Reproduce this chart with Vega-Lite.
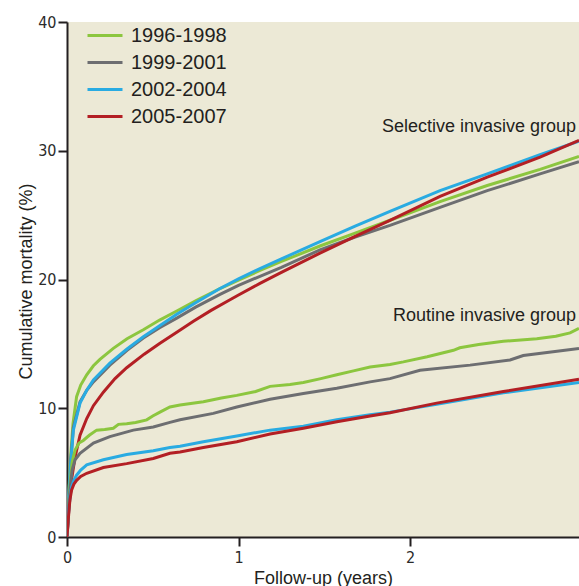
{
  "$schema": "https://vega.github.io/schema/vega-lite/v6.json",
  "width": 512,
  "height": 515,
  "autosize": {"type": "none"},
  "padding": {"left": 67, "top": 22, "right": 0, "bottom": 49},
  "background": "white",
  "config": {
    "view": {"fill": "#ece9d6", "stroke": null},
    "font": "Liberation Sans",
    "axis": {
      "grid": false,
      "domainColor": "#231f20",
      "domainWidth": 2,
      "tickColor": "#231f20",
      "tickWidth": 2,
      "tickSize": 9,
      "labelColor": "#2b2b2b",
      "labelFont": "Liberation Sans Narrow, DejaVu Sans Condensed, sans-serif",
      "labelFontSize": 16,
      "titleColor": "#231f20",
      "titleFont": "Liberation Sans",
      "titleFontSize": 18,
      "titleFontWeight": "normal"
    },
    "legend": {
      "orient": "none",
      "legendX": 26.5,
      "legendY": 2,
      "padding": 0,
      "symbolType": "M-1.75,0H1.75",
      "symbolSize": 400,
      "symbolStrokeWidth": 3,
      "labelFont": "Liberation Sans",
      "labelFontSize": 20,
      "labelColor": "#231f20",
      "labelOffset": 14.5,
      "rowPadding": 5,
      "title": null
    }
  },
  "layer": [
    {
      "data": {"values": [
        {"p":"1996-1998","g":"S","x":0,"y":0},
        {"p":"1996-1998","g":"S","x":0.01,"y":3.2},
        {"p":"1996-1998","g":"S","x":0.02,"y":6.0},
        {"p":"1996-1998","g":"S","x":0.035,"y":8.8},
        {"p":"1996-1998","g":"S","x":0.056,"y":10.9},
        {"p":"1996-1998","g":"S","x":0.08,"y":11.8},
        {"p":"1996-1998","g":"S","x":0.115,"y":12.6},
        {"p":"1996-1998","g":"S","x":0.154,"y":13.3},
        {"p":"1996-1998","g":"S","x":0.192,"y":13.8},
        {"p":"1996-1998","g":"S","x":0.27,"y":14.65},
        {"p":"1996-1998","g":"S","x":0.35,"y":15.4},
        {"p":"1996-1998","g":"S","x":0.445,"y":16.1},
        {"p":"1996-1998","g":"S","x":0.54,"y":16.85},
        {"p":"1996-1998","g":"S","x":0.64,"y":17.55},
        {"p":"1996-1998","g":"S","x":0.75,"y":18.35},
        {"p":"1996-1998","g":"S","x":0.892,"y":19.3},
        {"p":"1996-1998","g":"S","x":1.0,"y":19.95},
        {"p":"1996-1998","g":"S","x":1.125,"y":20.7},
        {"p":"1996-1998","g":"S","x":1.25,"y":21.4},
        {"p":"1996-1998","g":"S","x":1.475,"y":22.6},
        {"p":"1996-1998","g":"S","x":1.68,"y":23.6},
        {"p":"1996-1998","g":"S","x":1.883,"y":24.6},
        {"p":"1996-1998","g":"S","x":2.175,"y":26.05},
        {"p":"1996-1998","g":"S","x":2.45,"y":27.3},
        {"p":"1996-1998","g":"S","x":2.758,"y":28.55},
        {"p":"1996-1998","g":"S","x":2.985,"y":29.55},

        {"p":"1999-2001","g":"S","x":0,"y":0},
        {"p":"1999-2001","g":"S","x":0.01,"y":3.0},
        {"p":"1999-2001","g":"S","x":0.02,"y":5.5},
        {"p":"1999-2001","g":"S","x":0.037,"y":8.5},
        {"p":"1999-2001","g":"S","x":0.076,"y":10.5},
        {"p":"1999-2001","g":"S","x":0.115,"y":11.4},
        {"p":"1999-2001","g":"S","x":0.154,"y":12.05},
        {"p":"1999-2001","g":"S","x":0.25,"y":13.35},
        {"p":"1999-2001","g":"S","x":0.35,"y":14.5},
        {"p":"1999-2001","g":"S","x":0.445,"y":15.45},
        {"p":"1999-2001","g":"S","x":0.54,"y":16.25},
        {"p":"1999-2001","g":"S","x":0.64,"y":17.0},
        {"p":"1999-2001","g":"S","x":0.75,"y":17.85},
        {"p":"1999-2001","g":"S","x":0.892,"y":18.85},
        {"p":"1999-2001","g":"S","x":1.0,"y":19.55},
        {"p":"1999-2001","g":"S","x":1.125,"y":20.25},
        {"p":"1999-2001","g":"S","x":1.25,"y":20.95},
        {"p":"1999-2001","g":"S","x":1.475,"y":22.3},
        {"p":"1999-2001","g":"S","x":1.68,"y":23.3},
        {"p":"1999-2001","g":"S","x":1.883,"y":24.2},
        {"p":"1999-2001","g":"S","x":2.175,"y":25.6},
        {"p":"1999-2001","g":"S","x":2.45,"y":26.9},
        {"p":"1999-2001","g":"S","x":2.758,"y":28.2},
        {"p":"1999-2001","g":"S","x":2.985,"y":29.15},

        {"p":"2002-2004","g":"S","x":0,"y":0},
        {"p":"2002-2004","g":"S","x":0.01,"y":3.0},
        {"p":"2002-2004","g":"S","x":0.02,"y":5.5},
        {"p":"2002-2004","g":"S","x":0.037,"y":8.3},
        {"p":"2002-2004","g":"S","x":0.076,"y":10.4},
        {"p":"2002-2004","g":"S","x":0.115,"y":11.4},
        {"p":"2002-2004","g":"S","x":0.154,"y":12.2},
        {"p":"2002-2004","g":"S","x":0.25,"y":13.5},
        {"p":"2002-2004","g":"S","x":0.35,"y":14.6},
        {"p":"2002-2004","g":"S","x":0.445,"y":15.55},
        {"p":"2002-2004","g":"S","x":0.54,"y":16.4},
        {"p":"2002-2004","g":"S","x":0.64,"y":17.3},
        {"p":"2002-2004","g":"S","x":0.75,"y":18.2},
        {"p":"2002-2004","g":"S","x":0.892,"y":19.3},
        {"p":"2002-2004","g":"S","x":1.0,"y":20.05},
        {"p":"2002-2004","g":"S","x":1.125,"y":20.85},
        {"p":"2002-2004","g":"S","x":1.25,"y":21.6},
        {"p":"2002-2004","g":"S","x":1.475,"y":22.95},
        {"p":"2002-2004","g":"S","x":1.68,"y":24.15},
        {"p":"2002-2004","g":"S","x":1.883,"y":25.3},
        {"p":"2002-2004","g":"S","x":2.175,"y":26.9},
        {"p":"2002-2004","g":"S","x":2.45,"y":28.2},
        {"p":"2002-2004","g":"S","x":2.758,"y":29.7},
        {"p":"2002-2004","g":"S","x":2.985,"y":30.75},

        {"p":"2005-2007","g":"S","x":0,"y":0},
        {"p":"2005-2007","g":"S","x":0.01,"y":2.0},
        {"p":"2005-2007","g":"S","x":0.017,"y":3.0},
        {"p":"2005-2007","g":"S","x":0.027,"y":4.5},
        {"p":"2005-2007","g":"S","x":0.047,"y":6.2},
        {"p":"2005-2007","g":"S","x":0.076,"y":7.9},
        {"p":"2005-2007","g":"S","x":0.115,"y":9.2},
        {"p":"2005-2007","g":"S","x":0.154,"y":10.2},
        {"p":"2005-2007","g":"S","x":0.212,"y":11.25},
        {"p":"2005-2007","g":"S","x":0.28,"y":12.3},
        {"p":"2005-2007","g":"S","x":0.348,"y":13.15},
        {"p":"2005-2007","g":"S","x":0.45,"y":14.2},
        {"p":"2005-2007","g":"S","x":0.542,"y":15.05},
        {"p":"2005-2007","g":"S","x":0.64,"y":15.9},
        {"p":"2005-2007","g":"S","x":0.737,"y":16.75},
        {"p":"2005-2007","g":"S","x":0.84,"y":17.6},
        {"p":"2005-2007","g":"S","x":0.94,"y":18.35},
        {"p":"2005-2007","g":"S","x":1.0,"y":18.8},
        {"p":"2005-2007","g":"S","x":1.125,"y":19.7},
        {"p":"2005-2007","g":"S","x":1.25,"y":20.55},
        {"p":"2005-2007","g":"S","x":1.475,"y":22.05},
        {"p":"2005-2007","g":"S","x":1.68,"y":23.35},
        {"p":"2005-2007","g":"S","x":1.883,"y":24.6},
        {"p":"2005-2007","g":"S","x":2.175,"y":26.45},
        {"p":"2005-2007","g":"S","x":2.45,"y":27.95},
        {"p":"2005-2007","g":"S","x":2.758,"y":29.5},
        {"p":"2005-2007","g":"S","x":2.985,"y":30.8},

        {"p":"1996-1998","g":"R","x":0,"y":0},
        {"p":"1996-1998","g":"R","x":0.01,"y":2.5},
        {"p":"1996-1998","g":"R","x":0.02,"y":4.5},
        {"p":"1996-1998","g":"R","x":0.03,"y":5.8},
        {"p":"1996-1998","g":"R","x":0.047,"y":6.75},
        {"p":"1996-1998","g":"R","x":0.07,"y":7.3},
        {"p":"1996-1998","g":"R","x":0.095,"y":7.5},
        {"p":"1996-1998","g":"R","x":0.13,"y":7.9},
        {"p":"1996-1998","g":"R","x":0.173,"y":8.3},
        {"p":"1996-1998","g":"R","x":0.22,"y":8.35},
        {"p":"1996-1998","g":"R","x":0.27,"y":8.45},
        {"p":"1996-1998","g":"R","x":0.3,"y":8.75},
        {"p":"1996-1998","g":"R","x":0.348,"y":8.8},
        {"p":"1996-1998","g":"R","x":0.4,"y":8.9},
        {"p":"1996-1998","g":"R","x":0.465,"y":9.1},
        {"p":"1996-1998","g":"R","x":0.5,"y":9.4},
        {"p":"1996-1998","g":"R","x":0.542,"y":9.7},
        {"p":"1996-1998","g":"R","x":0.6,"y":10.1},
        {"p":"1996-1998","g":"R","x":0.659,"y":10.25},
        {"p":"1996-1998","g":"R","x":0.795,"y":10.5},
        {"p":"1996-1998","g":"R","x":0.9,"y":10.8},
        {"p":"1996-1998","g":"R","x":0.99,"y":11.0},
        {"p":"1996-1998","g":"R","x":1.1,"y":11.3},
        {"p":"1996-1998","g":"R","x":1.184,"y":11.7},
        {"p":"1996-1998","g":"R","x":1.3,"y":11.85},
        {"p":"1996-1998","g":"R","x":1.378,"y":12.0},
        {"p":"1996-1998","g":"R","x":1.48,"y":12.3},
        {"p":"1996-1998","g":"R","x":1.573,"y":12.6},
        {"p":"1996-1998","g":"R","x":1.67,"y":12.9},
        {"p":"1996-1998","g":"R","x":1.767,"y":13.2},
        {"p":"1996-1998","g":"R","x":1.883,"y":13.4},
        {"p":"1996-1998","g":"R","x":1.961,"y":13.6},
        {"p":"1996-1998","g":"R","x":2.1,"y":14.0},
        {"p":"1996-1998","g":"R","x":2.253,"y":14.5},
        {"p":"1996-1998","g":"R","x":2.29,"y":14.7},
        {"p":"1996-1998","g":"R","x":2.4,"y":14.95},
        {"p":"1996-1998","g":"R","x":2.544,"y":15.2},
        {"p":"1996-1998","g":"R","x":2.739,"y":15.4},
        {"p":"1996-1998","g":"R","x":2.85,"y":15.6},
        {"p":"1996-1998","g":"R","x":2.933,"y":15.85},
        {"p":"1996-1998","g":"R","x":2.985,"y":16.2},

        {"p":"1999-2001","g":"R","x":0,"y":0},
        {"p":"1999-2001","g":"R","x":0.01,"y":2.5},
        {"p":"1999-2001","g":"R","x":0.02,"y":4.0},
        {"p":"1999-2001","g":"R","x":0.03,"y":5.2},
        {"p":"1999-2001","g":"R","x":0.047,"y":6.0},
        {"p":"1999-2001","g":"R","x":0.076,"y":6.5},
        {"p":"1999-2001","g":"R","x":0.154,"y":7.3},
        {"p":"1999-2001","g":"R","x":0.25,"y":7.8},
        {"p":"1999-2001","g":"R","x":0.387,"y":8.3},
        {"p":"1999-2001","g":"R","x":0.503,"y":8.55},
        {"p":"1999-2001","g":"R","x":0.6,"y":8.9},
        {"p":"1999-2001","g":"R","x":0.659,"y":9.1},
        {"p":"1999-2001","g":"R","x":0.853,"y":9.6},
        {"p":"1999-2001","g":"R","x":0.99,"y":10.1},
        {"p":"1999-2001","g":"R","x":1.184,"y":10.7},
        {"p":"1999-2001","g":"R","x":1.378,"y":11.15},
        {"p":"1999-2001","g":"R","x":1.573,"y":11.55},
        {"p":"1999-2001","g":"R","x":1.767,"y":12.05},
        {"p":"1999-2001","g":"R","x":1.883,"y":12.3},
        {"p":"1999-2001","g":"R","x":2.058,"y":12.95},
        {"p":"1999-2001","g":"R","x":2.35,"y":13.35},
        {"p":"1999-2001","g":"R","x":2.583,"y":13.75},
        {"p":"1999-2001","g":"R","x":2.66,"y":14.1},
        {"p":"1999-2001","g":"R","x":2.985,"y":14.65},

        {"p":"2002-2004","g":"R","x":0,"y":0},
        {"p":"2002-2004","g":"R","x":0.01,"y":2.0},
        {"p":"2002-2004","g":"R","x":0.018,"y":3.2},
        {"p":"2002-2004","g":"R","x":0.027,"y":3.9},
        {"p":"2002-2004","g":"R","x":0.04,"y":4.4},
        {"p":"2002-2004","g":"R","x":0.056,"y":4.8},
        {"p":"2002-2004","g":"R","x":0.08,"y":5.2},
        {"p":"2002-2004","g":"R","x":0.115,"y":5.6},
        {"p":"2002-2004","g":"R","x":0.212,"y":6.0},
        {"p":"2002-2004","g":"R","x":0.348,"y":6.4},
        {"p":"2002-2004","g":"R","x":0.503,"y":6.7},
        {"p":"2002-2004","g":"R","x":0.6,"y":6.95},
        {"p":"2002-2004","g":"R","x":0.659,"y":7.05},
        {"p":"2002-2004","g":"R","x":0.795,"y":7.4},
        {"p":"2002-2004","g":"R","x":0.99,"y":7.85},
        {"p":"2002-2004","g":"R","x":1.184,"y":8.3},
        {"p":"2002-2004","g":"R","x":1.378,"y":8.6},
        {"p":"2002-2004","g":"R","x":1.573,"y":9.1},
        {"p":"2002-2004","g":"R","x":1.767,"y":9.5},
        {"p":"2002-2004","g":"R","x":1.883,"y":9.7},
        {"p":"2002-2004","g":"R","x":2.155,"y":10.3},
        {"p":"2002-2004","g":"R","x":2.544,"y":11.2},
        {"p":"2002-2004","g":"R","x":2.985,"y":12.0},

        {"p":"2005-2007","g":"R","x":0,"y":0},
        {"p":"2005-2007","g":"R","x":0.01,"y":1.8},
        {"p":"2005-2007","g":"R","x":0.017,"y":2.9},
        {"p":"2005-2007","g":"R","x":0.027,"y":3.65},
        {"p":"2005-2007","g":"R","x":0.04,"y":4.1},
        {"p":"2005-2007","g":"R","x":0.056,"y":4.4},
        {"p":"2005-2007","g":"R","x":0.08,"y":4.7},
        {"p":"2005-2007","g":"R","x":0.115,"y":4.95},
        {"p":"2005-2007","g":"R","x":0.212,"y":5.4},
        {"p":"2005-2007","g":"R","x":0.348,"y":5.7},
        {"p":"2005-2007","g":"R","x":0.503,"y":6.1},
        {"p":"2005-2007","g":"R","x":0.6,"y":6.5},
        {"p":"2005-2007","g":"R","x":0.659,"y":6.6},
        {"p":"2005-2007","g":"R","x":0.795,"y":6.95},
        {"p":"2005-2007","g":"R","x":0.99,"y":7.4},
        {"p":"2005-2007","g":"R","x":1.184,"y":8.0},
        {"p":"2005-2007","g":"R","x":1.378,"y":8.45},
        {"p":"2005-2007","g":"R","x":1.573,"y":8.95},
        {"p":"2005-2007","g":"R","x":1.767,"y":9.4},
        {"p":"2005-2007","g":"R","x":1.883,"y":9.65},
        {"p":"2005-2007","g":"R","x":2.155,"y":10.4},
        {"p":"2005-2007","g":"R","x":2.544,"y":11.3},
        {"p":"2005-2007","g":"R","x":2.985,"y":12.25}
      ]},
      "mark": {"type": "line", "strokeWidth": 3, "clip": true, "interpolate": "linear"},
      "encoding": {
        "x": {
          "field": "x", "type": "quantitative",
          "scale": {"domain": [0, 2.985], "nice": false, "zero": false},
          "axis": {"values": [0, 1, 2], "format": "d", "labelFlush": false, "labelPadding": 3, "title": "Follow-up (years)", "titlePadding": 4}
        },
        "y": {
          "field": "y", "type": "quantitative",
          "scale": {"domain": [0, 40], "nice": false},
          "axis": {"values": [0, 10, 20, 30, 40], "labelPadding": 2, "title": "Cumulative mortality (%)", "titleX": -36, "titleY": 259, "titleBaseline": "alphabetic", "titleAlign": "center", "titleAngle": 270}
        },
        "color": {
          "field": "p", "type": "nominal",
          "scale": {"domain": ["1996-1998", "1999-2001", "2002-2004", "2005-2007"], "range": ["#8cc63f", "#6d6e71", "#29abe2", "#b31f24"]}
        },
        "detail": {"field": "g", "type": "nominal"}
      }
    },
    {
      "data": {"values": [
        {"label": "Selective invasive group", "x": 2.968, "y": 31.48},
        {"label": "Routine invasive group", "x": 2.968, "y": 16.8}
      ]},
      "mark": {"type": "text", "align": "right", "baseline": "alphabetic", "fontSize": 18, "font": "Liberation Sans", "color": "#231f20"},
      "encoding": {
        "x": {"field": "x", "type": "quantitative"},
        "y": {"field": "y", "type": "quantitative"},
        "text": {"field": "label", "type": "nominal"}
      }
    }
  ]
}
